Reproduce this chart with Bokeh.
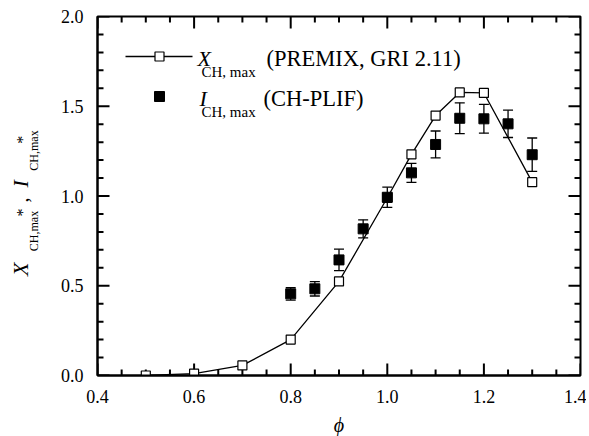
import math
from bokeh.plotting import figure
from bokeh.layouts import row
from bokeh.models import (Range1d, LinearAxis, FixedTicker, PrintfTickFormatter,
                          Label, ColumnDataSource, Whisker, TeeHead)
from bokeh.embed import file_html
from bokeh.resources import INLINE

# ---- data ----
phi_model = [0.5, 0.6, 0.7, 0.8, 0.9, 1.0, 1.05, 1.1, 1.15, 1.2, 1.3]
x_ch_max = [0.0, 0.01, 0.056, 0.20, 0.524, 0.99, 1.232, 1.448, 1.577, 1.574, 1.077]

phi_exp = [0.8, 0.85, 0.9, 0.95, 1.0, 1.05, 1.1, 1.15, 1.2, 1.25, 1.3]
i_ch_max = [0.455, 0.483, 0.644, 0.817, 0.993, 1.129, 1.287, 1.433, 1.43, 1.402, 1.23]
i_err = [0.035, 0.04, 0.06, 0.05, 0.056, 0.053, 0.075, 0.086, 0.08, 0.076, 0.093]

x_major = [0.4, 0.6, 0.8, 1.0, 1.2, 1.4]
x_minor = [0.45, 0.5, 0.55, 0.65, 0.7, 0.75, 0.85, 0.9, 0.95,
           1.05, 1.1, 1.15, 1.25, 1.3, 1.35]
y_major = [0.0, 0.5, 1.0, 1.5, 2.0]
y_minor = [0.1, 0.2, 0.3, 0.4, 0.6, 0.7, 0.8, 0.9,
           1.1, 1.2, 1.3, 1.4, 1.6, 1.7, 1.8, 1.9]

legend_model = ["X", "CH, max", "(PREMIX, GRI 2.11)"]
legend_exp = ["I", "CH, max", "(CH-PLIF)"]
x_label = "\u03d5"

# ---- layout constants (page pixels) ----
W, H = 589, 436
LW = 50                      # width of the strip holding the y-axis title
FL, FR, FT, FB = 97, 580, 16, 375
X0, X1, Y0, Y1 = 0.4, 1.4, 0.0, 2.0
DX = (X1 - X0) / (FR - FL)   # data units per pixel
DY = (Y1 - Y0) / (FB - FT)

def px2x(px):
    return X0 + (px - FL) * DX

def py2y(py):
    return Y0 + (FB - py) * DY

SERIF = "Liberation Serif"

p = figure(frame_width=FR - FL, frame_height=FB - FT,
           min_border_left=FL - LW, min_border_top=FT, min_border_right=6,
           min_border_bottom=H - FB,
           x_range=Range1d(X0, X1), y_range=Range1d(Y0, Y1),
           output_backend="svg", toolbar_location=None, x_axis_type=None, y_axis_type=None)
p.xgrid.visible = False
p.ygrid.visible = False
p.outline_line_color = "black"
p.outline_line_width = 2
p.background_fill_color = "white"
p.border_fill_color = "white"

def style_axis(ax):
    ax.axis_line_width = 2
    ax.axis_line_color = "black"
    ax.major_tick_line_color = None
    ax.minor_tick_line_color = None
    ax.major_tick_in = 0
    ax.major_tick_out = 0
    ax.minor_tick_in = 0
    ax.minor_tick_out = 0
    ax.major_label_text_font = SERIF
    ax.major_label_text_font_size = "18px"
    ax.major_label_text_color = "black"
    ax.major_label_standoff = 14

xb = LinearAxis(ticker=FixedTicker(ticks=x_major, minor_ticks=x_minor),
                formatter=PrintfTickFormatter(format="%.1f"))
style_axis(xb)
xb.axis_label = x_label
xb.axis_label_text_font = SERIF
xb.axis_label_text_font_style = "italic"
xb.axis_label_text_font_size = "20px"
xb.axis_label_text_color = "black"
xb.axis_label_standoff = 8
p.add_layout(xb, "below")
yl = LinearAxis(ticker=FixedTicker(ticks=y_major, minor_ticks=y_minor),
                formatter=PrintfTickFormatter(format="%.1f"))
style_axis(yl)
p.add_layout(yl, "left")

# ---- inward tick marks on all four sides ----
MAJ, MIN = 12, 6   # tick lengths in pixels
xs, ys = [], []
for ticks, L in ((x_major, MAJ), (x_minor, MIN)):
    for t in ticks:
        xs += [[t, t], [t, t]]
        ys += [[Y0, Y0 + L * DY], [Y1, Y1 - L * DY]]
for ticks, L in ((y_major, MAJ), (y_minor, MIN)):
    for t in ticks:
        xs += [[X0, X0 + L * DX], [X1, X1 - L * DX]]
        ys += [[t, t], [t, t]]
p.multi_line(xs=xs, ys=ys, line_color="black", line_width=2)

# ---- model curve ----
p.line(phi_model, x_ch_max, line_color="black", line_width=1.3)
p.scatter(phi_model, x_ch_max, marker="square", size=9, fill_color="white",
          line_color="black", line_width=1.2)

# ---- experiment with error bars ----
src = ColumnDataSource(dict(x=phi_exp, y=i_ch_max,
                            lo=[v - e for v, e in zip(i_ch_max, i_err)],
                            hi=[v + e for v, e in zip(i_ch_max, i_err)]))
wh = Whisker(source=src, base="x", lower="lo", upper="hi", line_color="black", line_width=1.3,
             upper_head=TeeHead(size=10, line_width=1.3, line_color="black"),
             lower_head=TeeHead(size=10, line_width=1.3, line_color="black"))
p.add_layout(wh)
p.scatter("x", "y", source=src, marker="square", size=10, fill_color="black", line_color="black")

# ---- legend (manual, for subscripts) ----
p.line([px2x(125), px2x(192)], [py2y(56), py2y(56)], line_color="black", line_width=1.3)
p.scatter([px2x(159)], [py2y(56)], marker="square", size=9, fill_color="white",
          line_color="black", line_width=1.2)
p.scatter([px2x(159)], [py2y(96)], marker="square", size=10, fill_color="black", line_color="black")

def lab(fig, x, y, text, size, italic=False, angle=0.0, align="left"):
    fig.add_layout(Label(x=x, y=y, text=text, text_font=SERIF,
                         text_font_size=f"{size}px",
                         text_font_style="italic" if italic else "normal",
                         text_color="black", text_baseline="middle", text_align=align,
                         angle=angle))

lab(p, px2x(197), py2y(57.5), legend_model[0], 22, italic=True)
lab(p, px2x(201), py2y(71.5), legend_model[1], 15)
lab(p, px2x(266), py2y(57.5), legend_model[2], 22.5)
lab(p, px2x(199), py2y(98), legend_exp[0], 22, italic=True)
lab(p, px2x(201), py2y(111), legend_exp[1], 15)
lab(p, px2x(263), py2y(98), legend_exp[2], 22.5)

# ---- y-axis title strip (own canvas so nothing is clipped) ----
q = figure(width=LW, height=H, x_range=Range1d(0, LW), y_range=Range1d(H - FB, H - FT),
           min_border_left=0, min_border_right=0, min_border_top=FT, min_border_bottom=H - FB,
           output_backend="svg", toolbar_location=None,
           x_axis_type=None, y_axis_type=None)
q.xgrid.visible = False
q.ygrid.visible = False
q.outline_line_color = None
q.background_fill_color = "white"
q.border_fill_color = "white"

R = math.pi / 2
def ylab(px, py, text, size, italic=False):
    lab(q, px, H - py, text, size, italic=italic, angle=R)

ylab(19.5, 277, "X", 22, italic=True)
ylab(33, 252, "CH,max", 12)
ylab(21.5, 217, "*", 16)
ylab(20, 203, ",", 20)
ylab(19.5, 188, "I", 22, italic=True)
ylab(33, 171, "CH,max", 12)
ylab(21.5, 144, "*", 16)

layout = row(q, p)
open("out.html", "w").write(file_html(layout, INLINE))
